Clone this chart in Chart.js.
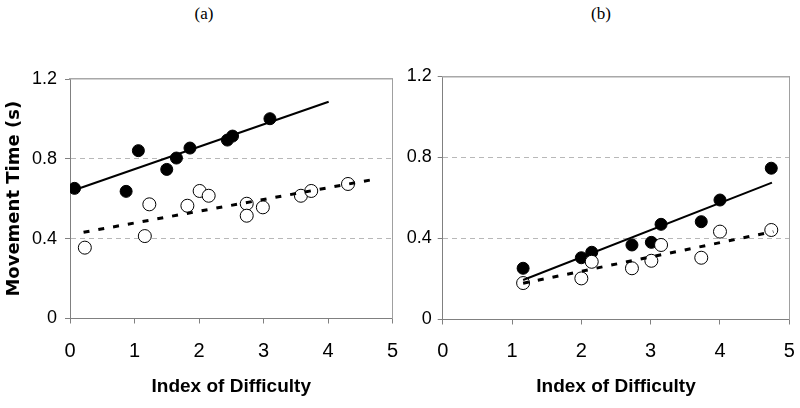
<!DOCTYPE html>
<html>
<head>
<meta charset="utf-8">
<script src="https://cdn.jsdelivr.net/npm/chart.js@4"></script>
<style>
  body { margin: 0; background: #fff; }
  #wrap { position: relative; width: 800px; height: 408px; background: #fff; }
  .panel { position: absolute; top: 0; width: 400px; height: 408px; }
  .lab { position: absolute; top: 4px; width: 40px; margin-left: -20px; text-align: center;
         font: 17px "Liberation Serif", "Times New Roman", serif; color: #000; }
</style>
</head>
<body>
<div id="wrap">
  <div class="lab" style="left:204px">(a)</div>
  <div class="lab" style="left:601px">(b)</div>
  <div class="panel" style="left:0"><canvas id="ca"></canvas></div>
  <div class="panel" style="left:400px"><canvas id="cb"></canvas></div>
</div>
<script>
const xTicks = [0, 1, 2, 3, 4, 5];
const yTicks = [0, 0.4, 0.8, 1.2];
const xTitle = 'Index of Difficulty';
const yTitle = 'Movement Time (s)';

// panel (a)
const aFilledX = [0.07, 0.87, 1.06, 1.50, 1.65, 1.86, 2.44, 2.52, 3.10];
const aFilledY = [0.652, 0.637, 0.841, 0.747, 0.804, 0.854, 0.894, 0.914, 1.001];
const aOpenX = [0.23, 1.16, 1.23, 1.82, 2.01, 2.15, 2.74, 2.74, 2.99, 3.58, 3.74, 4.31];
const aOpenY = [0.355, 0.413, 0.572, 0.565, 0.639, 0.615, 0.575, 0.515, 0.557, 0.615, 0.639, 0.674];
const aSolidX = [0.07, 4.01];
const aSolidY = [0.644, 1.086];
const aDotX = [0.21, 4.66];
const aDotY = [0.432, 0.694];

// panel (b)
const bFilledX = [1.16, 2.0, 2.15, 2.73, 3.01, 3.15, 3.73, 4.0, 4.74];
const bFilledY = [0.253, 0.305, 0.332, 0.368, 0.381, 0.470, 0.483, 0.590, 0.747];
const bOpenX = [1.16, 2.0, 2.15, 2.73, 3.01, 3.15, 3.73, 4.0, 4.74];
const bOpenY = [0.180, 0.203, 0.285, 0.253, 0.290, 0.368, 0.305, 0.434, 0.442];
const bSolidX = [1.16, 4.75];
const bSolidY = [0.195, 0.676];
const bDotX = [1.16, 4.77];
const bDotY = [0.179, 0.434];

function pts(xs, ys) {
  return xs.map((x, i) => ({ x: x, y: ys[i] }));
}

function makePanel(id, p) {
  const datasets = [
    { data: pts(p.solidX, p.solidY), showLine: true, borderColor: '#000', borderWidth: 2,
      pointRadius: 0 },
    { data: pts(p.dotX, p.dotY), showLine: true, borderColor: '#000', borderWidth: 3,
      borderDash: [6, 9], pointRadius: 0 },
    { data: pts(p.openX, p.openY), backgroundColor: '#fff', borderColor: '#000',
      borderWidth: 1, pointRadius: 6.5 },
    { data: pts(p.filledX, p.filledY), backgroundColor: '#000', borderColor: '#000',
      borderWidth: 1, pointRadius: 6 }
  ];

  new Chart(document.getElementById(id), {
    type: 'scatter',
    data: { datasets: datasets },
    options: {
      responsive: true,
      maintainAspectRatio: false,
      animation: false,
      layout: { padding: { left: 0, top: p.top, right: p.right, bottom: 0 } },
      scales: {
        x: {
          type: 'linear', position: 'bottom', min: 0, max: 5,
          afterBuildTicks: s => { s.ticks = xTicks.map(v => ({ value: v })); },
          afterFit: s => { s.height = p.xH; s.paddingLeft = 0; s.paddingRight = 0; },
          grid: { drawOnChartArea: false, tickLength: 5, tickColor: '#808080' },
          border: { color: '#808080' },
          ticks: { color: '#000', padding: p.xPad, maxRotation: 0,
                   font: { family: '"Liberation Sans", Arial, sans-serif', size: 20 } },
          title: { display: true, text: xTitle, color: '#000', padding: { top: 0, bottom: 10 },
                   font: { family: '"Liberation Sans", Arial, sans-serif',
                           size: 19, weight: 'bold' } }
        },
        y: {
          type: 'linear', position: 'left', min: 0, max: 1.2,
          afterBuildTicks: s => { s.ticks = yTicks.map(v => ({ value: v })); },
          afterFit: s => { s.width = p.yW; s.paddingTop = 0; s.paddingBottom = 0; },
          grid: {
            color: c => (c.tick && (c.tick.value === 0.4 || c.tick.value === 0.8)) ? '#b8b8b8' : 'rgba(0,0,0,0)',
            tickLength: 5, tickColor: '#808080', tickBorderDash: []
          },
          border: { color: '#808080', dash: [5, 4] },
          ticks: { color: '#000', padding: p.yPad,
                   callback: v => String(v),
                   font: { family: '"Liberation Sans", Arial, sans-serif', size: 18 } },
          title: { display: p.showYTitle, text: yTitle, color: '#000', padding: { top: 4, bottom: 0 },
                   font: { family: '"DejaVu Sans", sans-serif', size: 18, weight: 'bold' } }
        },
        x2: {
          type: 'linear', position: 'top', min: 0, max: 5,
          afterFit: s => { s.height = 0; s.paddingLeft = 0; s.paddingRight = 0; },
          ticks: { display: false }, grid: { display: false },
          border: { color: '#a8a8a8', width: 1.5 }
        },
        y2: {
          type: 'linear', position: 'right', min: 0, max: 1.2,
          afterFit: s => { s.width = 0; s.paddingTop = 0; s.paddingBottom = 0; },
          ticks: { display: false }, grid: { display: false },
          border: { color: '#a0a0a0' }
        }
      },
      plugins: { legend: { display: false }, tooltip: { enabled: false } }
    }
  });
}

makePanel('ca', {
  filledX: aFilledX, filledY: aFilledY, openX: aOpenX, openY: aOpenY,
  solidX: aSolidX, solidY: aSolidY, dotX: aDotX, dotY: aDotY,
  top: 79, right: 6.5, yW: 70, xH: 89.5, xPad: 16, yPad: 8, showYTitle: true
});
makePanel('cb', {
  filledX: bFilledX, filledY: bFilledY, openX: bOpenX, openY: bOpenY,
  solidX: bSolidX, solidY: bSolidY, dotX: bDotX, dotY: bDotY,
  top: 76.5, right: 10.7, yW: 42.7, xH: 88.5, xPad: 15, yPad: 6, showYTitle: false
});
</script>
</body>
</html>
